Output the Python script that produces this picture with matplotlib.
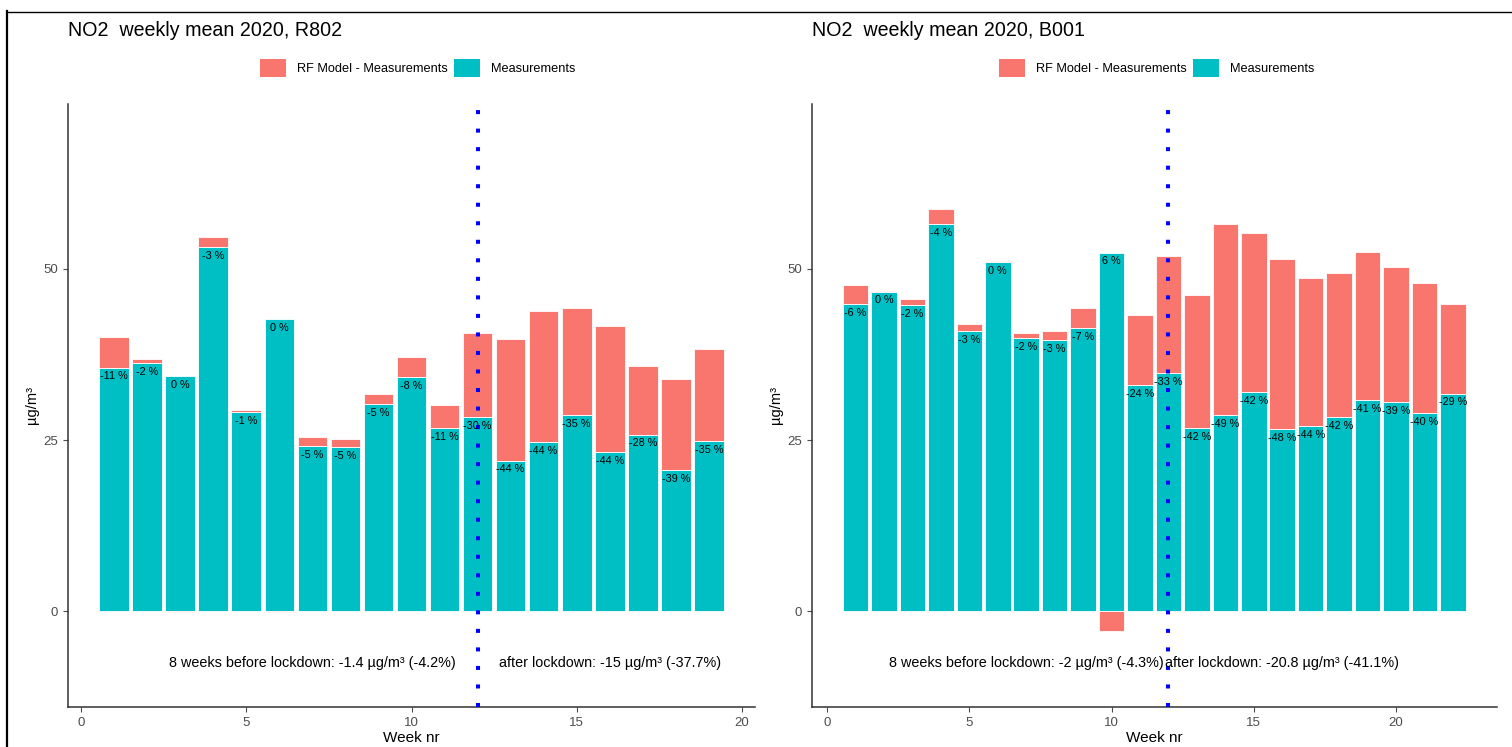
import matplotlib
matplotlib.use("Agg")
import matplotlib.pyplot as plt
from matplotlib.patches import Patch
from matplotlib.lines import Line2D

plt.rcParams['font.family'] = ['Liberation Sans', 'DejaVu Sans']

# ---------------- data ----------------
weeks_r802 = list(range(1, 20))
meas_r802 = [35.6, 36.2, 34.4, 53.2, 29.1, 42.7, 24.1, 24.0, 30.2, 34.2,
             26.7, 28.3, 22.0, 24.7, 28.6, 23.2, 25.8, 20.6, 24.8]
model_r802 = [40.0, 36.9, 34.3, 54.6, 29.4, 42.6, 25.4, 25.2, 31.7, 37.1,
              30.1, 40.6, 39.7, 43.9, 44.3, 41.7, 35.8, 33.9, 38.3]
pct_r802 = ["-11 %", "-2 %", "0 %", "-3 %", "-1 %", "0 %", "-5 %", "-5 %", "-5 %", "-8 %",
            "-11 %", "-30 %", "-44 %", "-44 %", "-35 %", "-44 %", "-28 %", "-39 %", "-35 %"]

weeks_b001 = list(range(1, 23))
meas_b001 = [44.9, 46.7, 44.75, 56.6, 40.9, 51.0, 39.9, 39.6, 41.3, 52.4, 33.0,
             34.8, 26.75, 28.65, 32.05, 26.55, 27.05, 28.35, 30.9, 30.6, 28.9, 31.8]
model_b001 = [47.7, 46.85, 45.6, 58.8, 42.0, 51.1, 40.6, 40.9, 44.3, 49.5, 43.3,
              51.9, 46.2, 56.6, 55.2, 51.4, 48.7, 49.4, 52.5, 50.3, 48.0, 44.9]
pct_b001 = ["-6 %", "0 %", "-2 %", "-4 %", "-3 %", "0 %", "-2 %", "-3 %", "-7 %", "6 %", "-24 %",
            "-33 %", "-42 %", "-49 %", "-42 %", "-48 %", "-44 %", "-42 %", "-41 %", "-39 %", "-40 %", "-29 %"]

lockdown_week = 12
titles = ["NO2  weekly mean 2020, R802", "NO2  weekly mean 2020, B001"]
before_txt = ["8 weeks before lockdown: -1.4 \u00b5g/m\u00b3 (-4.2%)",
              "8 weeks before lockdown: -2 \u00b5g/m\u00b3 (-4.3%)"]
after_txt = ["after lockdown: -15 \u00b5g/m\u00b3 (-37.7%)",
             "after lockdown: -20.8 \u00b5g/m\u00b3 (-41.1%)"]
legend_labels = ["RF Model - Measurements", "Measurements"]
yticks = [0, 25, 50]
xticks = [0, 5, 10, 15, 20]

RED = "#F8766D"
TEAL = "#00BFC4"

W, H = 1512, 747
fig = plt.figure(figsize=(W / 100, H / 100), dpi=100)


def fx(px):
    return px / W


def fy(py):
    return 1 - py / H


panels = [
    (weeks_r802, meas_r802, model_r802, pct_r802, 68, 755, (-0.4, 20.4)),
    (weeks_b001, meas_b001, model_b001, pct_b001, 812, 1497, (-0.53, 23.55)),
]

for i, (wk, meas, model, pct, x0, x1, xl) in enumerate(panels):
    ax = fig.add_axes([fx(x0), fy(707), fx(x1) - fx(x0), fy(104) - fy(707)])
    diff = [m - s for m, s in zip(model, meas)]
    bottoms = [s if d >= 0 else 0 for s, d in zip(meas, diff)]
    ax.bar(wk, meas, width=0.9, color=TEAL, edgecolor="white", linewidth=0.6, zorder=2)
    ax.bar(wk, diff, bottom=bottoms, width=0.9, color=RED, edgecolor="white", linewidth=0.6, zorder=2)
    for w, s, p in zip(wk, meas, pct):
        ax.text(w, s - 1.3, p, ha="center", va="center", fontsize=7.8, color="black", zorder=4)
    ax.axvline(lockdown_week, color="#0000FF", linewidth=2.9, linestyle=(0, (1, 3.6)),
               dash_capstyle="butt", zorder=3)
    ax.text(7, -7.6, before_txt[i], ha="center", va="center", fontsize=10.4, color="black", zorder=5)
    ax.text(16, -7.6, after_txt[i], ha="center", va="center", fontsize=10.4, color="black", zorder=5)

    ax.set_xlim(*xl)
    ax.set_ylim(-14.0, 74.1)
    ax.set_xticks(xticks)
    ax.set_yticks(yticks)
    ax.tick_params(axis="both", colors="#4d4d4d", labelsize=9.5, length=3.5, width=0.8,
                   labelcolor="#4d4d4d")
    for sp in ["top", "right"]:
        ax.spines[sp].set_visible(False)
    for sp in ["left", "bottom"]:
        ax.spines[sp].set_color("#333333")
        ax.spines[sp].set_linewidth(1.1)
    ax.set_xlabel("Week nr", fontsize=11, labelpad=2)
    ax.set_ylabel("\u00b5g/m\u00b3", fontsize=10.5, labelpad=3)

    fig.text(fx(x0), fy(30), titles[i], ha="left", va="center", fontsize=14.1, color="black")

    handles = [Patch(facecolor=RED, edgecolor="none"), Patch(facecolor=TEAL, edgecolor="none")]
    cx = 418 if i == 0 else 1157
    fig.legend(handles, legend_labels, loc="center", bbox_to_anchor=(fx(cx), fy(68)), ncol=2,
               frameon=False, fontsize=9.2, handlelength=2.0, handleheight=1.8,
               handletextpad=0.9, columnspacing=0.5)

# screenshot border lines
fig.add_artist(Line2D([fx(7), fx(1512)], [fy(11.5), fy(11.5)], color="black", linewidth=1.0))
fig.add_artist(Line2D([fx(7), fx(7)], [fy(11), fy(747)], color="black", linewidth=1.6))

fig.savefig("out.png", dpi=100)
